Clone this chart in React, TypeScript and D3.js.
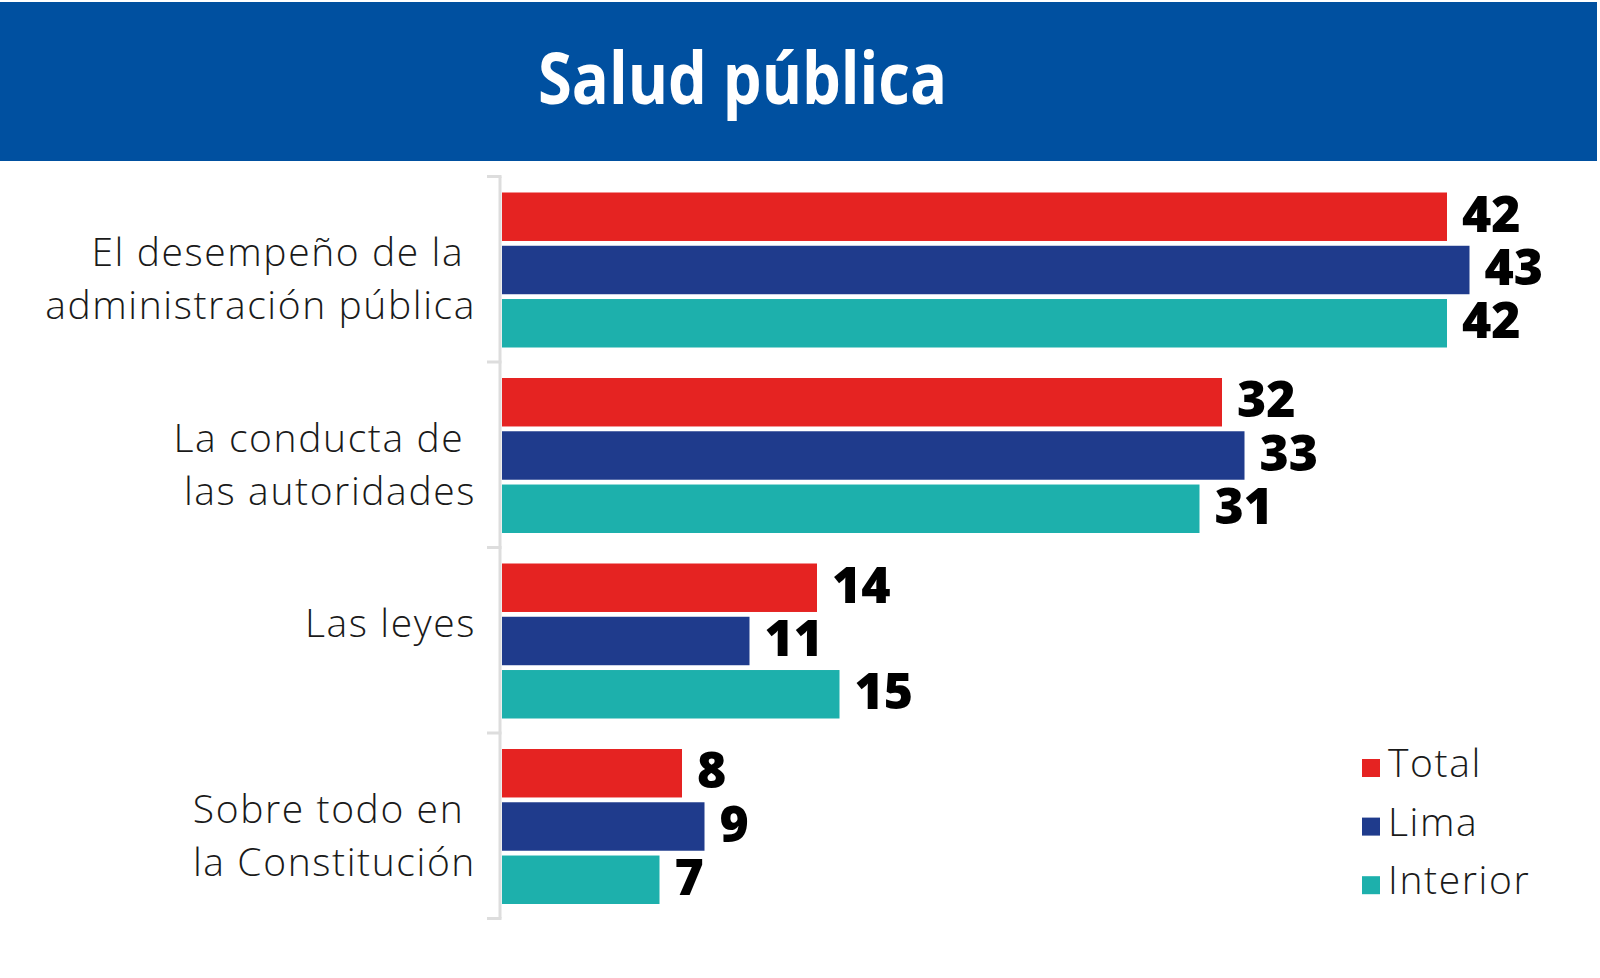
import React from "react";
import * as d3 from "d3";

// Categories (label lines) and the three series, in %
const categories = [
  ["El desempeño de la\u00a0", "administración pública"],
  ["La conducta de\u00a0", "las autoridades"],
  ["Las leyes"],
  ["Sobre todo en\u00a0", "la Constitución"],
];
const seriesNames = ["Total", "Lima", "Interior"];
const totalValues = [42, 32, 14, 8];
const limaValues = [43, 33, 11, 9];
const interiorValues = [42, 31, 15, 7];

const seriesValues = [totalValues, limaValues, interiorValues];
const colors = ["#e52322", "#1f3b8c", "#1db0ac"];

const W = 1600;
const H = 978;
const labelFont = "'Open Sans', 'DejaVu Sans', sans-serif";

export default function App() {
  const keys = categories.map((_, i) => String(i));

  const y = d3.scaleBand<string>().domain(keys).range([176.5, 918.5]);
  const yInner = d3
    .scaleBand<string>()
    .domain(seriesNames)
    .range([16, 171])
    .paddingInner(0.09);
  const x = d3.scaleLinear().domain([0, 43]).range([502, 1469.5]);

  const ticks = [...keys.map((k) => y(k) as number), 918.5];

  return (
    <svg
      width={W}
      height={H}
      style={{ position: "absolute", left: 0, top: 0, background: "#fff" }}
    >
      {/* header band */}
      <rect x={0} y={2} width={1597} height={159} fill="#0050a0" />
      <text
        x={742.5}
        y={104}
        textAnchor="middle"
        fill="#fff"
        fontFamily={labelFont}
        fontWeight={700}
        fontSize={71}
        textLength={409}
        lengthAdjust="spacingAndGlyphs"
      >
        Salud pública
      </text>

      {/* left axis */}
      <line x1={500} x2={500} y1={176.5} y2={918.5} stroke="#dddddd" strokeWidth={3} />
      {ticks.map((t, i) => (
        <line key={i} x1={487} x2={501.5} y1={t} y2={t} stroke="#dddddd" strokeWidth={3} />
      ))}

      {keys.map((k, ci) => {
        const g0 = y(k) as number;
        const mid = g0 + y.bandwidth() / 2;
        return (
          <g key={k}>
            <text
              textAnchor="end"
              fontFamily={labelFont}
              fontWeight={300}
              fontSize={39}
              letterSpacing={1.6}
              fill="#1a1a1a"
            >
              {categories[ci].map((line, li) => (
                <tspan key={li} x={476} y={mid - 3 + li * 53}>
                  {line}
                </tspan>
              ))}
            </text>
            {seriesNames.map((s, si) => {
              const v = seriesValues[si][ci];
              const by = g0 + (yInner(s) as number);
              const bh = yInner.bandwidth();
              return (
                <g key={s}>
                  <rect x={x(0)} y={by} width={x(v) - x(0)} height={bh} fill={colors[si]} />
                  <text
                    x={x(v) + 15}
                    y={by + bh / 2 + 15}
                    fontFamily={labelFont}
                    fontWeight={800}
                    fontSize={50}
                    fill="#000"
                  >
                    {v}
                  </text>
                </g>
              );
            })}
          </g>
        );
      })}

      {/* legend */}
      {seriesNames.map((s, i) => (
        <g key={s} transform={`translate(1362, ${759 + i * 58.6})`}>
          <rect width={18} height={18} fill={colors[i]} />
          <text
            x={26}
            y={18}
            fontFamily={labelFont}
            fontWeight={300}
            fontSize={39}
            letterSpacing={1.6}
            fill="#1a1a1a"
          >
            {s}
          </text>
        </g>
      ))}
    </svg>
  );
}
